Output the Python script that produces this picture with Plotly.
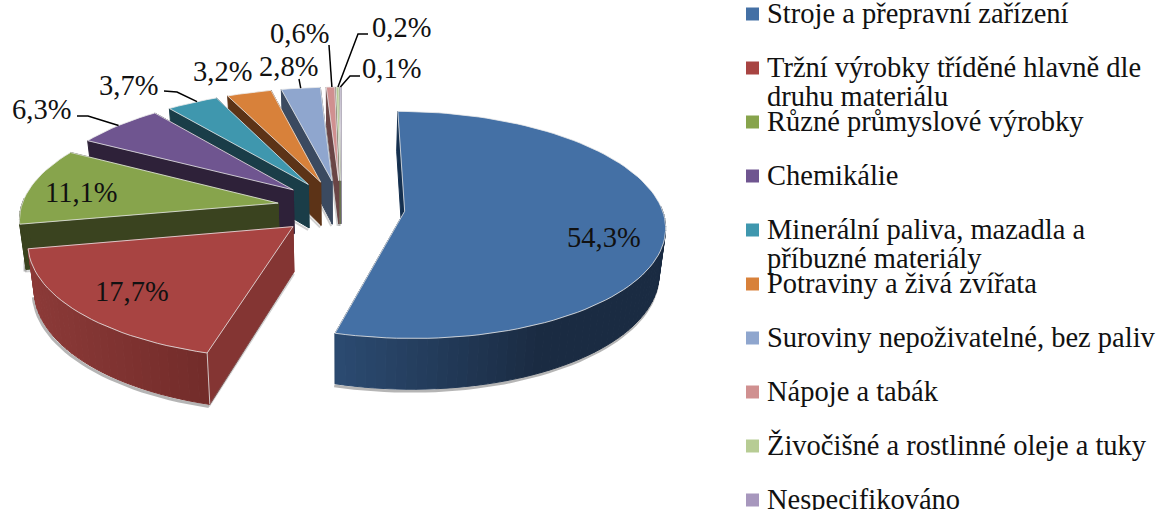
import numpy as np
import plotly.graph_objects as go

categories = ["Stroje a přepravní zařízení", "Tržní výrobky tříděné hlavně dle<br>druhu materiálu",
              "Různé průmyslové výrobky", "Chemikálie", "Minerální paliva, mazadla a<br>příbuzné materiály",
              "Potraviny a živá zvířata", "Suroviny nepoživatelné, bez paliv", "Nápoje a tabák",
              "Živočišné a rostlinné oleje a tuky", "Nespecifikováno"]
values = [54.3, 17.7, 11.1, 6.3, 3.7, 3.2, 2.8, 0.6, 0.2, 0.1]
top_colors = ["#4470a5", "#a84442", "#87a44c", "#6f5590", "#3f97ae", "#d8813a", "#8fa6ce", "#d09090", "#b7cc94", "#a797bd"]
wall_colors = ["#15304f", "#843533", "#3a431f", "#2e2139", "#1a3d48", "#5c3317", "#3b4a60", "#6a4545", "#6a7550", "#5c5070"]
rim_left = {0: "#2b4a70", 1: "#8c3a38"}
rim_right = {0: "#1a2b42", 1: "#732c2a"}

# projection constants
CX, CY, RX, RY, K, DEPTH, EXPLODE, ZS = 341, 207.5, 257, 111, 0.12, 44.5, 0.249, 0.02
label_pos = [(604, 237), (132, 291), (81, 192), (41, 109), (128, 85), (222, 71), (288, 66), (299, 33), (401, 27), (391, 68)]
leader_elbows = {3: [(77, 116), (88, 116)], 4: [(164, 91), (177, 92)], 6: [(299, 79)], 7: [(329, 45)],
                 8: [(368, 34), (358, 34)], 9: [(360, 76), (350, 76)]}
legend_x, legend_text_x, legend_y0, legend_dy = 752.5, 764.5, 14, 54
line_gap = 29
FONT = "Liberation Serif"
FONT_SIZE = 28.5


def proj(X, Y, z=0.0):
    w = 1 - K * Y
    sx = CX + RX * X / w
    sy = CY + RY * Y / w
    sx = CX + (sx - CX) * (1 - ZS * z)
    return sx, sy + DEPTH * z / w


def hexmix(a, b, f):
    ca = [int(a[i:i + 2], 16) for i in (1, 3, 5)]
    cb = [int(b[i:i + 2], 16) for i in (1, 3, 5)]
    return "#%02x%02x%02x" % tuple(int(round(p + (q - p) * f)) for p, q in zip(ca, cb))


fig = go.Figure()


def poly(xs, ys, fill, line=None, lw=1):
    fig.add_trace(go.Scatter(x=list(xs), y=list(ys), mode="lines", fill="toself", fillcolor=fill,
                             line=dict(color=line or fill, width=lw), hoverinfo="skip", showlegend=False))


def stroke(xs, ys, color, lw=1):
    fig.add_trace(go.Scatter(x=list(xs), y=list(ys), mode="lines", line=dict(color=color, width=lw),
                             hoverinfo="skip", showlegend=False))


edges = np.radians(np.concatenate([[0], np.cumsum(values)]) * 3.6)
mids = (edges[:-1] + edges[1:]) / 2
offs = [(EXPLODE * np.sin(m), -EXPLODE * np.cos(m)) for m in mids]
rim_pts = {}

# slices are painted from the farthest to the nearest
for i in [9, 8, 7, 6, 5, 4, 3, 2, 1, 0]:
    t0, t1 = edges[i], edges[i + 1]
    ox, oy = offs[i]
    n = max(4, int(np.degrees(t1 - t0) / 2))
    ts = np.linspace(t0, t1, n)
    RimX = ox + np.sin(ts)
    RimY = oy - np.cos(ts)
    top = [proj(x, y) for x, y in zip(RimX, RimY)]
    ax, ay = proj(ox, oy)
    az, azb = proj(ox, oy, 1)

    # soft ground shadow under the visible outer rim
    vis = np.cos(ts) < 0.05
    if vis.any():
        sh = [proj(x, y, 1) for x, y in zip(RimX[vis], RimY[vis])]
        stroke([p[0] - 1 for p in sh], [p[1] + 2 for p in sh], "rgba(90,90,90,0.45)", 3)

    # end wall, start wall
    for tt in (t1, t0):
        ex, ey = ox + np.sin(tt), oy - np.cos(tt)
        p1, p2 = proj(ex, ey), proj(ex, ey, 1)
        poly([ax, p1[0], p2[0], az, ax], [ay, p1[1], p2[1], azb, ay], wall_colors[i])
        if tt == t0 and i > 0:
            stroke([p2[0] - 1, az - 1 if i > 1 else az], [p2[1] + 2, azb + 2], "rgba(120,120,120,0.35)", 2)

    # outer wall with a horizontal gradient
    left = rim_left.get(i, wall_colors[i])
    right = rim_right.get(i, wall_colors[i])
    vis_idx = [j for j in range(n - 1) if np.cos((ts[j] + ts[j + 1]) / 2) < 0.05]
    if vis_idx:
        xsall = [top[j][0] for j in vis_idx]
        lo, hi = min(xsall), max(xsall)
        for j in vis_idx:
            a, b = top[j], top[j + 1]
            c = proj(RimX[j + 1], RimY[j + 1], 1)
            d = proj(RimX[j], RimY[j], 1)
            f = (a[0] - lo) / max(hi - lo, 1)
            f = min(1.0, f * (1.6 if i == 0 else 1.0))
            col = hexmix(left, right, f)
            poly([a[0], b[0], c[0], d[0], a[0]], [a[1], b[1], c[1], d[1], a[1]], col)

    # top face
    xs = [ax] + [p[0] for p in top] + [ax]
    ys = [ay] + [p[1] for p in top] + [ay]
    poly(xs, ys, top_colors[i], "rgba(235,235,235,0.8)", 1)
    if i == 1:
        p1, p2 = proj(RimX[0], RimY[0]), proj(RimX[0], RimY[0], 1)
        stroke([p1[0], p2[0]], [p1[1], p2[1]], "rgba(235,235,235,0.8)", 1)
    k = len(top) // 2
    rim_pts[i] = top[k]

# leader lines run from the elbow points to the rim of each slice
for i, elbow in leader_elbows.items():
    end = rim_pts[i]
    stroke([p[0] for p in elbow] + [end[0]], [p[1] for p in elbow] + [end[1]], "#000000", 1.5)

# legend
legend_ys = [legend_y0 + legend_dy * i for i in range(len(categories))]
fig.add_trace(go.Scatter(x=[legend_x] * len(categories), y=legend_ys, mode="markers",
                         marker=dict(symbol="square", size=13, color=top_colors), hoverinfo="skip", showlegend=False))

annotations = []
for c, y in zip(categories, legend_ys):
    for n_line, part in enumerate(c.split("<br>")):
        annotations.append(dict(x=legend_text_x, y=y - 1 + n_line * line_gap, text=part, showarrow=False,
                                xanchor="left", yanchor="middle", align="left",
                                font=dict(family=FONT, size=FONT_SIZE, color="#111111")))
for v, (x, y) in zip(values, label_pos):
    annotations.append(dict(x=x, y=y, text=f"{v:.1f}%".replace(".", ","), showarrow=False, xanchor="center",
                            yanchor="middle", font=dict(family=FONT, size=FONT_SIZE, color="#111111")))

fig.update_layout(width=1159, height=510, margin=dict(l=0, r=0, t=0, b=0), paper_bgcolor="white", plot_bgcolor="white",
                  showlegend=False, annotations=annotations,
                  xaxis=dict(range=[0, 1159], visible=False, fixedrange=True),
                  yaxis=dict(range=[510, 0], visible=False, fixedrange=True))
fig.write_html("out.html", config={"displayModeBar": False}, post_script="document.body.style.margin='0';")
